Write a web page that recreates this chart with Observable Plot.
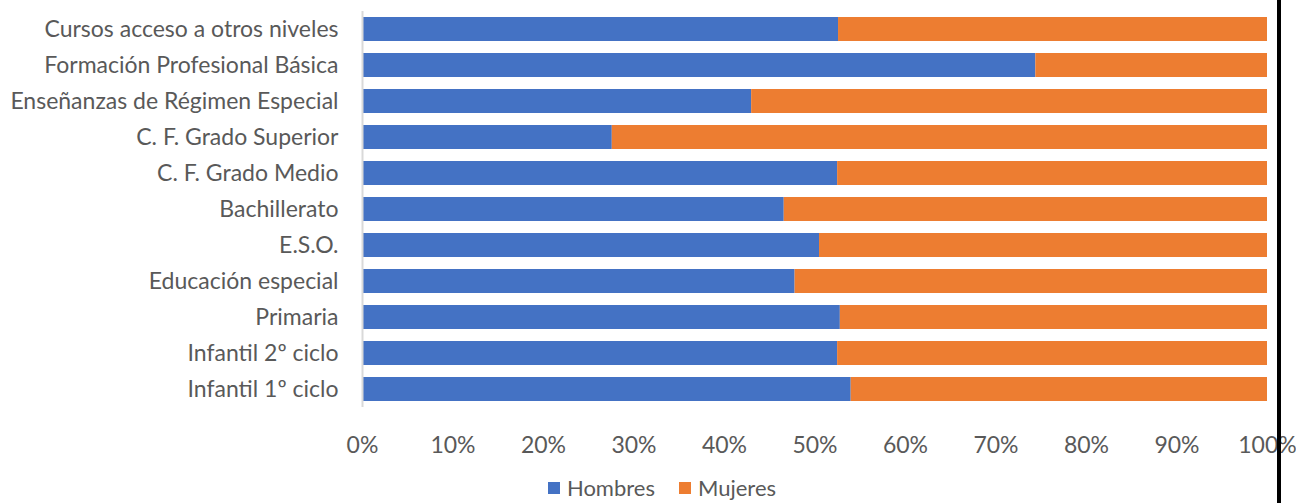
<!DOCTYPE html>
<html>
<head>
<meta charset="utf-8">
<script src="https://cdn.jsdelivr.net/npm/d3@7"></script>
<script src="https://cdn.jsdelivr.net/npm/@observablehq/plot@0.6"></script>
<style>
  body { margin: 0; background: #fff; font-family: Lato, sans-serif; }
  #wrap { position: relative; width: 1296px; height: 503px; overflow: hidden; }
  #legend { position: absolute; top: 476px; left: 0; width: 1296px; display: flex; justify-content: center; gap: 24px; padding-left: 28px; box-sizing: border-box; font-size: 22px; line-height: 24px; color: #595959; }
  .item { display: flex; align-items: center; gap: 7px; }
  .sw { width: 12px; height: 12px; display: inline-block; }
  #edge { position: absolute; left: 1277px; top: 0; width: 4px; height: 503px; background: #000; }
</style>
</head>
<body>
<div id="wrap">
  <div id="chart"></div>
  <div id="legend"></div>
  <div id="edge"></div>
</div>
<script>
const categories = [
  "Cursos acceso a otros niveles",
  "Formación Profesional Básica",
  "Enseñanzas de Régimen Especial",
  "C. F. Grado Superior",
  "C. F. Grado Medio",
  "Bachillerato",
  "E.S.O.",
  "Educación especial",
  "Primaria",
  "Infantil 2º ciclo",
  "Infantil 1º ciclo"
];
const hombres = [52.6, 74.4, 43.0, 27.6, 52.5, 46.6, 50.5, 47.8, 52.8, 52.5, 54.0];
const series = ["Hombres", "Mujeres"];
const colors = ["#4472C4", "#ED7D31"];
const xTicks = [0, 10, 20, 30, 40, 50, 60, 70, 80, 90, 100];

const rows = [];
categories.forEach((c, i) => {
  rows.push({cat: c, serie: "Hombres", value: hombres[i]});
  rows.push({cat: c, serie: "Mujeres", value: 100 - hombres[i]});
});

const chart = Plot.plot({
  width: 1296,
  height: 463,
  marginLeft: 362,
  marginRight: 29,
  marginTop: 11,
  marginBottom: 56,
  style: {fontFamily: "Lato, sans-serif", fontSize: "23px", color: "#595959", background: "white"},
  x: {domain: [0, 100], ticks: xTicks, tickFormat: d => d + "%", label: null, tickSize: 0, tickPadding: 29},
  y: {domain: categories, label: null, tickSize: 0, tickPadding: 24, paddingInner: 1/3, paddingOuter: 1/6},
  color: {domain: series, range: colors},
  marks: [
    Plot.barX(rows, Plot.stackX({x: "value", y: "cat", fill: "serie", order: series})),
    Plot.ruleX([0], {stroke: "#d9d9d9", strokeWidth: 2})
  ]
});
document.getElementById("chart").appendChild(chart);

const legend = document.getElementById("legend");
series.forEach((s, i) => {
  const it = document.createElement("div");
  it.className = "item";
  it.innerHTML = `<span class="sw" style="background:${colors[i]}"></span><span>${s}</span>`;
  legend.appendChild(it);
});
</script>
</body>
</html>
